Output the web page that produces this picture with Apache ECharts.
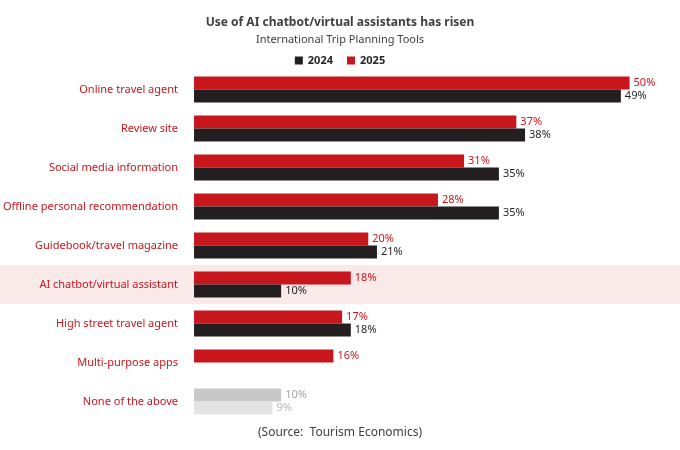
<!DOCTYPE html>
<html><head><meta charset="utf-8">
<script src="https://cdn.jsdelivr.net/npm/echarts@6/dist/echarts.min.js"></script>
<style>html,body{margin:0;padding:0;background:#fff}#c{width:680px;height:450px}</style>
</head><body><div id="c"></div>
<script>
const categories = ["Online travel agent","Review site","Social media information","Offline personal recommendation","Guidebook/travel magazine","AI chatbot/virtual assistant","High street travel agent","Multi-purpose apps","None of the above"];
const values2025 = [50,37,31,28,20,18,17,16,10];
const values2024 = [49,38,35,35,21,10,18,null,9];
const highlightCategory = "AI chatbot/virtual assistant";
const RED = "#c8161d", BLACK = "#231f20";
const last = categories.length - 1;
const chart = echarts.init(document.getElementById('c'));
const font = "Noto Sans";
function mk(vals, color, grey, greyLabel) {
  return vals.map((v, i) => v == null ? '-' : (i === last ? {value: v, itemStyle: {color: grey}, label: {color: greyLabel}} : v));
}
chart.setOption({
  animation: false,
  textStyle: {fontFamily: font},
  title: {text: "Use of AI chatbot/virtual assistants has risen", subtext: "International Trip Planning Tools",
    left: 'center', top: 12, itemGap: 5,
    textStyle: {fontSize: 12, fontWeight: 'bold', color: '#404040', fontFamily: font},
    subtextStyle: {fontSize: 11, color: '#404040', fontFamily: font}},
  legend: {top: 50, left: 'center', itemWidth: 8, itemHeight: 8, icon: 'rect', itemGap: 14,
    textStyle: {fontWeight: 'bold', fontSize: 11, color: '#262626'},
    data: ["2024", "2025"]},
  grid: {left: 194, right: 33, top: 70, bottom: 29},
  xAxis: {type: 'value', min: 0, max: 52, show: false},
  yAxis: {type: 'category', data: categories, inverse: true,
    axisLine: {show: false}, axisTick: {show: false},
    axisLabel: {color: RED, fontSize: 11, margin: 16}},
  series: [
    {name: "2025", type: 'bar', data: mk(values2025, RED, '#c8c8c8', '#a6a6a6'), barWidth: 13, barGap: '0%', itemStyle: {color: RED},
      label: {show: true, position: 'right', formatter: '{c}%', color: RED, fontSize: 11, distance: 4}},
    {name: "2024", type: 'bar', data: mk(values2024, BLACK, '#e3e3e3', '#b8b8b8'), barWidth: 13, barGap: '0%', itemStyle: {color: BLACK},
      label: {show: true, position: 'right', formatter: '{c}%', color: BLACK, fontSize: 11, distance: 4}}
  ]
});
const idx = categories.indexOf(highlightCategory);
const yc = chart.convertToPixel({yAxisIndex: 0}, idx);
const step = chart.convertToPixel({yAxisIndex: 0}, 1) - chart.convertToPixel({yAxisIndex: 0}, 0);
chart.setOption({graphic: [
  {type: 'rect', z: -10, silent: true, shape: {x: 0, y: yc - step / 2, width: 680, height: step}, style: {fill: '#f9e9e8'}},
  {type: 'text', left: 'center', top: 427, style: {text: "(Source:  Tourism Economics)", fill: '#404040', font: '12px "Noto Sans"'}}
]});
</script></body></html>
